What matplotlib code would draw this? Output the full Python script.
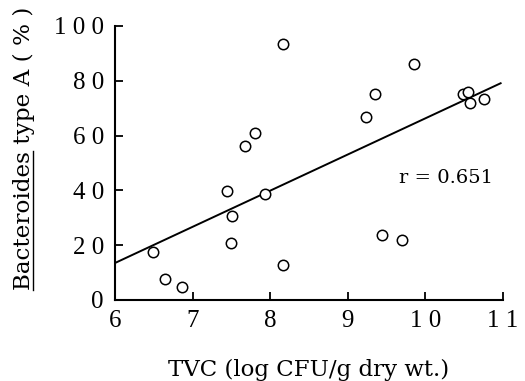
import matplotlib
matplotlib.use("Agg")
import matplotlib.pyplot as plt

# data
tvc = [6.49, 6.64, 6.86, 7.44, 7.51, 7.49, 7.68, 7.80, 7.93, 8.16,
       8.16, 9.24, 9.35, 9.86, 9.44, 9.70, 10.48, 10.55, 10.57, 10.75]
bact_a = [17.6, 7.5, 4.9, 39.6, 30.8, 20.7, 56.2, 60.8, 38.7, 93.4,
          12.8, 66.9, 75.1, 86.1, 23.7, 21.9, 75.2, 76.0, 72.0, 73.4]

# regression line end points
fit_x = [6.0, 10.97]
fit_y = [13.5, 79.1]
r_text = "r = 0.651"

xticks = [6, 7, 8, 9, 10, 11]
xtick_labels = ["6", "7", "8", "9", "1 0", "1 1"]
yticks = [0, 20, 40, 60, 80, 100]
ytick_labels = ["0", "2 0", "4 0", "6 0", "8 0", "1 0 0"]

plt.rcParams['font.family'] = ['Liberation Serif', 'DejaVu Serif']
label_font = ['DejaVu Serif']

fig = plt.figure(figsize=(5.25, 3.81), dpi=100)
ax = fig.add_axes([0.219, 0.2126, 0.739, 0.7192])

ax.plot(fit_x, fit_y, color='black', linewidth=1.4)
ax.plot(tvc, bact_a, linestyle='none', marker='o', markersize=7.5,
        markerfacecolor='white', markeredgecolor='black', markeredgewidth=1.1)
ax.text(9.66, 44.5, r_text, fontsize=14, va='center', ha='left', family=label_font)

ax.set_xlim(6, 11)
ax.set_ylim(0, 100)
ax.set_xticks(xticks)
ax.set_xticklabels(xtick_labels)
ax.set_yticks(yticks)
ax.set_yticklabels(ytick_labels)
ax.tick_params(direction='in', length=6, width=1.3, labelsize=18, pad=8)
ax.tick_params(axis='x', pad=7)

for side in ['top', 'right']:
    ax.spines[side].set_visible(False)
for side in ['left', 'bottom']:
    ax.spines[side].set_linewidth(1.5)

fig.text(0.587, 1 - 376 / 381, "TVC (log CFU/g dry wt.)", fontsize=16.5,
         ha='center', va='baseline', family=label_font)

# y label with underlined genus name
y0 = 1 - 290 / 381
lbl = fig.text(0.045, y0, "Bacteroides type A ( % )", fontsize=16.7,
               rotation=90, ha='center', va='bottom', family=label_font)
fig.canvas.draw()
renderer = fig.canvas.get_renderer()
full_bb = lbl.get_window_extent(renderer)
part = fig.text(0.045, y0, "Bacteroides", fontsize=16.7, rotation=90,
                ha='center', va='bottom', alpha=0, family=label_font)
part_bb = part.get_window_extent(renderer)
inv = fig.transFigure.inverted()
(x_a, y_a) = inv.transform((full_bb.x1 - 2, part_bb.y0))
(x_b, y_b) = inv.transform((full_bb.x1 - 2, part_bb.y1))
fig.add_artist(plt.Line2D([x_a, x_b], [y_a, y_b], color='black', linewidth=1.0,
                          transform=fig.transFigure))

fig.savefig("out.png", dpi=100)
